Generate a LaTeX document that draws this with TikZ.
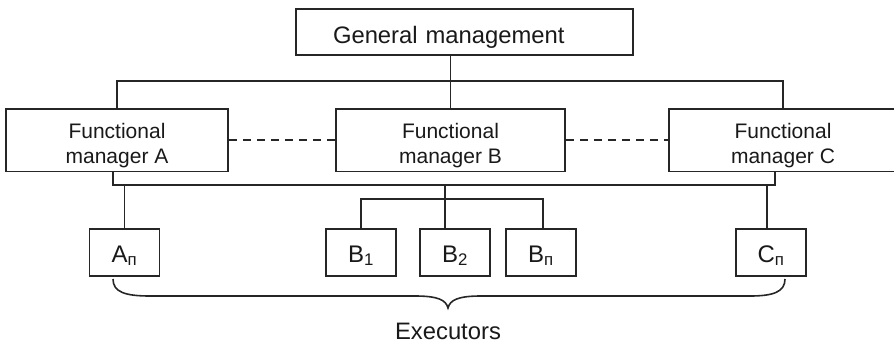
\documentclass[tikz,border=0pt]{standalone}
\usepackage{fontspec}
\setmainfont{Liberation Sans}
\begin{document}
\begin{tikzpicture}[x=1pt,y=-1pt,
  line/.style={line width=1.8pt, draw=black!85},
  box/.style={line, rectangle, inner sep=0pt, text=black!90},
  mgr/.style={box, align=center, minimum width=228pt,
    font=\fontsize{21}{24.5}\selectfont, text height=54pt, text depth=8.5pt},
  exe/.style={box, minimum width=70pt,
    font=\fontsize{24}{28}\selectfont, text height=33pt, text depth=14pt},
  link/.style={line, dash pattern=on 8pt off 6pt}]
\useasboundingbox (0,0) rectangle (894,343);

% top level
\node[box, inner xsep=37pt, text width=263pt, align=left,
  text height=34pt, text depth=12pt,
  font=\fontsize{23.8}{28}\selectfont] (gm) at (464.5,32) {General management};

% functional managers
\node[mgr, minimum width=222pt] (fa) at (117,140.25) {Functional\\manager A};
\node[mgr, minimum width=229pt] (fb) at (450.5,140.25) {Functional\\manager B};
\node[mgr] (fc) at (783,140.25) {Functional\\manager C};

% executors
\node[exe] (an) at (124.5,252.5) {А\textsubscript{п}};
\node[exe] (b1) at (361,252.5) {B\textsubscript{1}};
\node[exe] (b2) at (455,252.5) {B\textsubscript{2}};
\node[exe] (bn) at (541,252.5) {B\textsubscript{п}};
\node[exe] (cn) at (771,252.5) {C\textsubscript{п}};

% bus levels
\coordinate (topbus) at (0,81);
\coordinate (lowbus) at (0,185);
\coordinate (bbus) at (0,199);

% general management to managers
\draw[line] (fb.north |- gm.south) -- (fb.north);
\draw[line] (fa.north) |- (topbus -| fc.north) -- (fc.north);

% links between managers
\draw[link] (fa.east) -- (fb.west);
\draw[link] (fb.east) -- (fc.west);

% managers A and C to the executor bus
\coordinate (fafoot) at ([xshift=-4pt]fa.south);
\coordinate (fcfoot) at ([xshift=-8pt]fc.south);
\draw[line] (fafoot) |- (lowbus -| fcfoot) -- (fcfoot);

% executor stems
\draw[line] (an.north) -- (an.north |- lowbus);
\coordinate (cnstem) at ([xshift=-4pt]cn.north);
\draw[line] (cnstem) -- (cnstem |- lowbus);
\coordinate (b2stem) at ([xshift=-10pt]b2.north);
\draw[line] (b2stem) -- (b2stem |- lowbus);
\coordinate (bnstem) at ([xshift=2pt]bn.north);
\draw[line] (b1.north) |- (bbus -| bnstem) -- (bnstem);

% brace under the executors
\coordinate (brl) at (113,279);
\coordinate (brr) at (785,279);
\coordinate (brtip) at (448,308);
\draw[line, line width=1.6pt] (brl) .. controls (113,292) and (125,296) .. (150,296)
  -- (415,296) .. controls (438,296) and (446,300) .. (brtip)
  .. controls (450,300) and (458,296) .. (481,296)
  -- (750,296) .. controls (773,296) and (785,292) .. (brr);
\node[anchor=base, inner sep=0pt, text=black!90, font=\fontsize{23.8}{28}\selectfont] (exec) at (448,339.5) {Executors};
\end{tikzpicture}
\end{document}
